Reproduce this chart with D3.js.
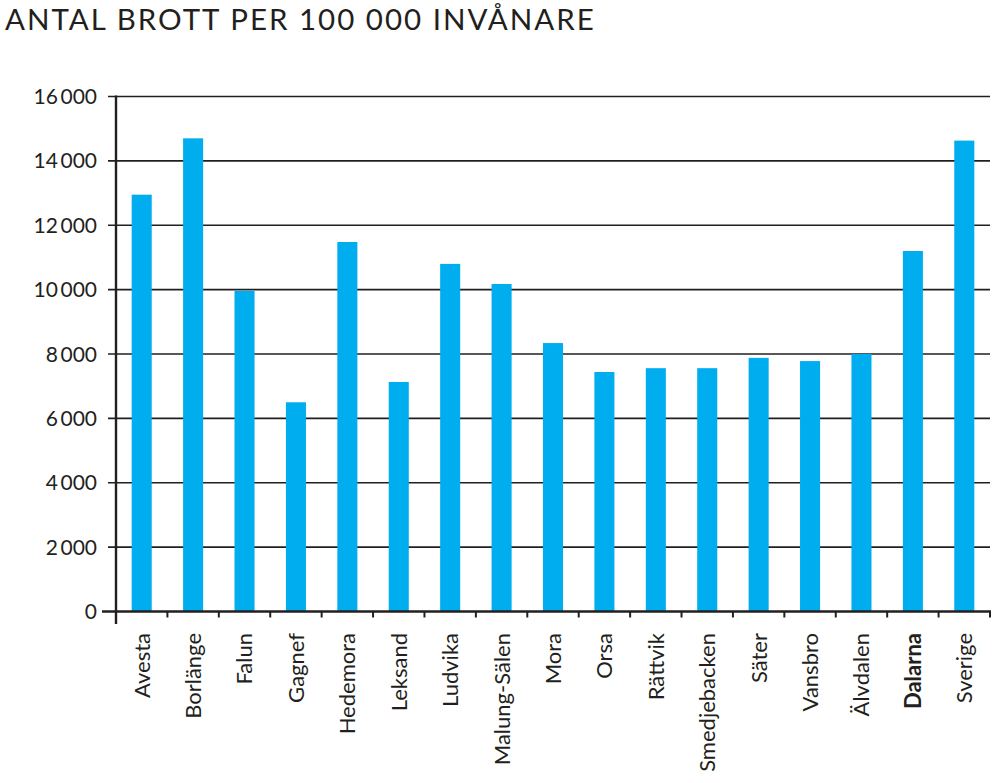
<!DOCTYPE html>
<html>
<head>
<meta charset="utf-8">
<script src="https://cdn.jsdelivr.net/npm/d3@7"></script>
<style>
  html, body { margin: 0; padding: 0; background: #fff; }
  svg { display: block; }
  text { font-family: Lato, "Open Sans", sans-serif; fill: #231f20; }
</style>
</head>
<body>
<svg id="chart" width="1005" height="783"></svg>
<script>
const title = "ANTAL BROTT PER 100 000 INVÅNARE";
const categories = ["Avesta", "Borlänge", "Falun", "Gagnef", "Hedemora", "Leksand", "Ludvika",
  "Malung-Sälen", "Mora", "Orsa", "Rättvik", "Smedjebacken", "Säter", "Vansbro", "Älvdalen",
  "Dalarna", "Sverige"];
const values = [12950, 14700, 9960, 6500, 11480, 7130, 10800, 10175, 8340, 7440, 7560, 7560,
  7880, 7780, 8000, 11200, 14630];
const boldCategories = ["Dalarna"];
const yTicks = [0, 2000, 4000, 6000, 8000, 10000, 12000, 14000, 16000];

(function () {
const svg = d3.select("#chart");
const mLeft = 116, mRight = 990, mTop = 96.5, mBottom = 611.5;
const ink = "#231f20";

const band = d3.scaleBand().domain(categories).range([mLeft, mRight]).padding(0);
const x = d3.scaleBand().domain(categories).range([mLeft, mRight])
  .paddingInner(0.61).paddingOuter(0.305);
const y = d3.scaleLinear().domain([0, 16000]).range([mBottom, mTop]);

const fmt = v => v === 0 ? "0" : d3.format(",")(v).replace(",", "\u2009");

svg.append("text")
  .attr("x", 5).attr("y", 30)
  .attr("font-size", 29.5)
  .attr("letter-spacing", "2px")
  .text(title);

// gridlines
svg.append("g").selectAll("line")
  .data(yTicks.filter(d => d > 0))
  .join("line")
  .attr("x1", 108).attr("x2", mRight)
  .attr("y1", d => y(d)).attr("y2", d => y(d))
  .attr("stroke", ink).attr("stroke-width", 1.6);

// y labels
svg.append("g").selectAll("text")
  .data(yTicks)
  .join("text")
  .attr("x", 97).attr("y", d => y(d))
  .attr("dy", "0.36em")
  .attr("text-anchor", "end")
  .attr("font-size", 21)
  .attr("fill", "#333")
  .text(fmt);

// bars
svg.append("g").selectAll("rect")
  .data(categories)
  .join("rect")
  .attr("x", c => x(c))
  .attr("width", x.bandwidth())
  .attr("y", (c, i) => y(values[i]))
  .attr("height", (c, i) => y(0) - y(values[i]))
  .attr("fill", "#00aeef");

// x axis line
svg.append("line")
  .attr("x1", 102).attr("x2", mRight + 1)
  .attr("y1", mBottom).attr("y2", mBottom)
  .attr("stroke", ink).attr("stroke-width", 2.4);
// y axis line
svg.append("line")
  .attr("x1", mLeft).attr("x2", mLeft)
  .attr("y1", mTop - 1).attr("y2", 624)
  .attr("stroke", ink).attr("stroke-width", 2.4);

// x ticks at band boundaries
const boundaries = categories.slice(1).map(c => band(c)).concat([mRight]);
svg.append("g").selectAll("line")
  .data(boundaries)
  .join("line")
  .attr("x1", d => d).attr("x2", d => d)
  .attr("y1", mBottom).attr("y2", 617.5)
  .attr("stroke", ink).attr("stroke-width", 2);

// x labels
svg.append("g").selectAll("text")
  .data(categories)
  .join("text")
  .attr("transform", c => `translate(${band(c) + band.bandwidth() / 2},633) rotate(-90)`)
  .attr("dy", "0.36em")
  .attr("text-anchor", "end")
  .attr("font-size", 22)
  .attr("font-weight", c => boldCategories.includes(c) ? "bold" : "normal")
  .text(c => c);
})();
</script>
</body>
</html>
